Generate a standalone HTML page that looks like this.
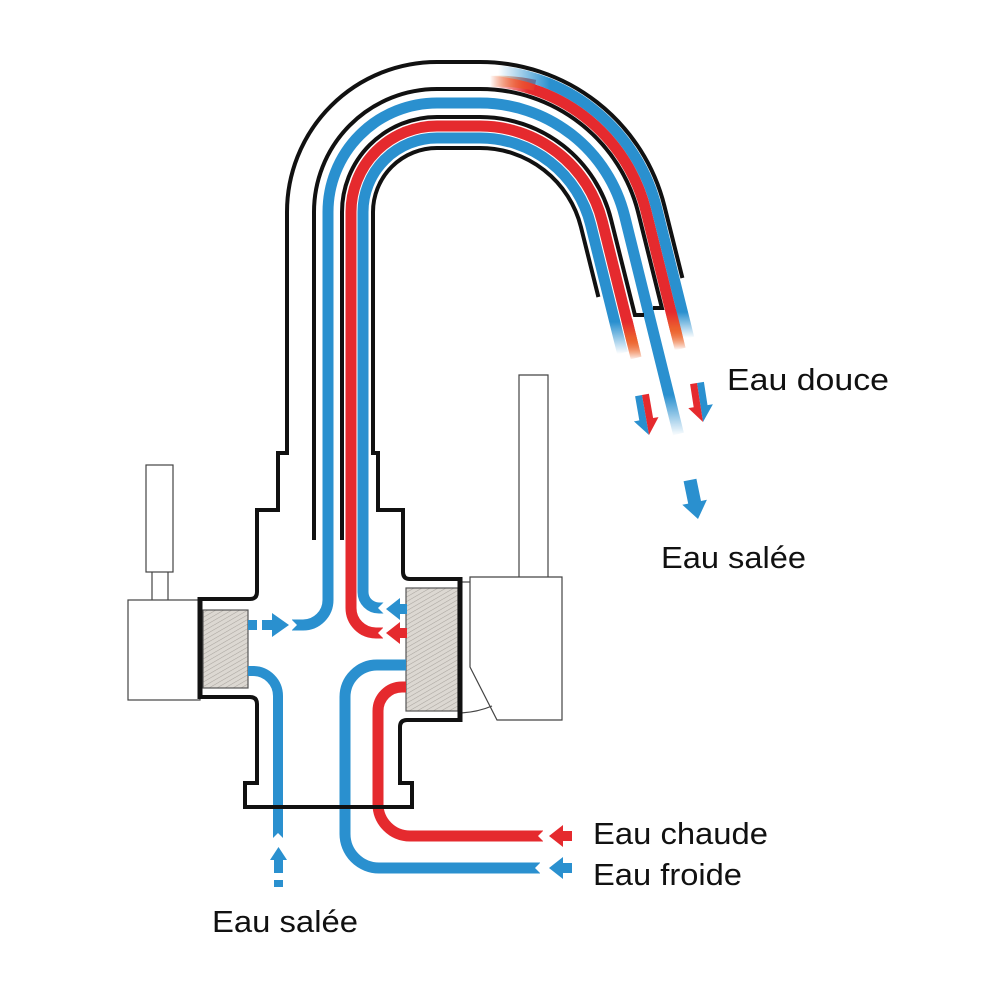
<!DOCTYPE html>
<html>
<head>
<meta charset="utf-8">
<style>
  html,body{margin:0;padding:0;background:#fff;}
  svg{display:block;}
  text{font-family:"Liberation Sans", Arial, sans-serif; fill:#111;}
</style>
</head>
<body>
<svg width="1000" height="1000" viewBox="0 0 1000 1000" xmlns="http://www.w3.org/2000/svg">
  <defs>
    <pattern id="hatch" width="4" height="4" patternUnits="userSpaceOnUse" patternTransform="rotate(60)">
      <rect width="4" height="4" fill="#dcd8d2"/>
      <line x1="0" y1="0" x2="0" y2="4" stroke="#aaa59f" stroke-width="1.1"/>
    </pattern>

    <!-- start fades (horizontal) -->
    <linearGradient id="gStartOR" gradientUnits="userSpaceOnUse" x1="490" y1="0" x2="528" y2="0">
      <stop offset="0" stop-color="#000"/><stop offset="1" stop-color="#fff"/>
    </linearGradient>
    <linearGradient id="gStartOB" gradientUnits="userSpaceOnUse" x1="498" y1="0" x2="550" y2="0">
      <stop offset="0" stop-color="#000"/><stop offset="1" stop-color="#fff"/>
    </linearGradient>
    <!-- end fades (vertical) -->
    <linearGradient id="gEndOR" gradientUnits="userSpaceOnUse" x1="0" y1="328" x2="0" y2="350">
      <stop offset="0" stop-color="#fff"/><stop offset="1" stop-color="#000"/>
    </linearGradient>
    <linearGradient id="gEndOB" gradientUnits="userSpaceOnUse" x1="0" y1="312" x2="0" y2="338">
      <stop offset="0" stop-color="#fff"/><stop offset="1" stop-color="#000"/>
    </linearGradient>
    <linearGradient id="gEndIR" gradientUnits="userSpaceOnUse" x1="0" y1="338" x2="0" y2="360">
      <stop offset="0" stop-color="#fff"/><stop offset="1" stop-color="#000"/>
    </linearGradient>
    <linearGradient id="gEndIB" gradientUnits="userSpaceOnUse" x1="0" y1="322" x2="0" y2="354">
      <stop offset="0" stop-color="#fff"/><stop offset="1" stop-color="#000"/>
    </linearGradient>
    <linearGradient id="gEndB1" gradientUnits="userSpaceOnUse" x1="0" y1="395" x2="0" y2="436">
      <stop offset="0" stop-color="#fff"/><stop offset="1" stop-color="#000"/>
    </linearGradient>

    <mask id="mOR" maskUnits="userSpaceOnUse" x="0" y="0" width="1000" height="1000">
      <rect x="0" y="0" width="580" height="1000" fill="url(#gStartOR)"/>
      <rect x="580" y="0" width="420" height="1000" fill="url(#gEndOR)"/>
    </mask>
    <mask id="mOB" maskUnits="userSpaceOnUse" x="0" y="0" width="1000" height="1000">
      <rect x="0" y="0" width="580" height="1000" fill="url(#gStartOB)"/>
      <rect x="580" y="0" width="420" height="1000" fill="url(#gEndOB)"/>
    </mask>
    <mask id="mIR" maskUnits="userSpaceOnUse" x="0" y="0" width="1000" height="1000">
      <rect x="0" y="0" width="560" height="1000" fill="#fff"/>
      <rect x="560" y="0" width="440" height="1000" fill="url(#gEndIR)"/>
    </mask>
    <mask id="mIB" maskUnits="userSpaceOnUse" x="0" y="0" width="1000" height="1000">
      <rect x="0" y="0" width="560" height="1000" fill="#fff"/>
      <rect x="560" y="0" width="440" height="1000" fill="url(#gEndIB)"/>
    </mask>
    <mask id="mB1" maskUnits="userSpaceOnUse" x="0" y="0" width="1000" height="1000">
      <rect x="0" y="0" width="560" height="1000" fill="#fff"/>
      <rect x="560" y="0" width="440" height="1000" fill="url(#gEndB1)"/>
    </mask>

    <linearGradient id="orIR" gradientUnits="userSpaceOnUse" x1="0" y1="322" x2="0" y2="355">
      <stop offset="0" stop-color="#e52a2e"/><stop offset="1" stop-color="#f39a2e"/>
    </linearGradient>
    <linearGradient id="orOR" gradientUnits="userSpaceOnUse" x1="0" y1="312" x2="0" y2="345">
      <stop offset="0" stop-color="#e52a2e"/><stop offset="1" stop-color="#f39a2e"/>
    </linearGradient>
    <linearGradient id="orTop" gradientUnits="userSpaceOnUse" x1="490" y1="0" x2="540" y2="0">
      <stop offset="0" stop-color="#f39a2e"/><stop offset="1" stop-color="#e52a2e"/>
    </linearGradient>
  </defs>

  <!-- ===== Handles (thin outlines) ===== -->
  <g fill="#fff" stroke="#444" stroke-width="1.2">
    <!-- left handle -->
    <rect x="146" y="465" width="27" height="107"/>
    <line x1="152" y1="572" x2="152" y2="600"/>
    <line x1="168" y1="572" x2="168" y2="600"/>
    <rect x="128" y="600" width="72" height="100"/>
    <!-- right handle -->
    <path d="M519 375 L548 375 L548 577 Q533 581 519 577 Z"/>
    <path d="M470 577 L562 577 L562 720 L497 720 L470 667 Z"/>
    <path d="M461 582 L470 582" fill="none"/>
    <path d="M461 713 Q478 712 492 706" fill="none"/>
  </g>

  <!-- ===== Cartridges ===== -->
  <rect x="203" y="610" width="45" height="78" fill="url(#hatch)" stroke="#555" stroke-width="1.2"/>
  <rect x="406" y="588" width="52" height="123" fill="url(#hatch)" stroke="#555" stroke-width="1.2"/>

  <!-- ===== Coloured strands ===== -->
  <g fill="none" stroke-width="11" stroke-linecap="butt" stroke-linejoin="round">
    <!-- blue1 (salt) -->
    <path d="M292 625 L303 625 A25 25 0 0 0 328 600 L328 212 A109 109 0 0 1 437 103 L480 103 A149 149 0 0 1 624.6 216 L678.5 434" stroke="#2a90cf" mask="url(#mB1)"/>
    <!-- inner red -->
    <path d="M383 633 L376 633 A25 25 0 0 1 351 608 L351 212 A86 86 0 0 1 437 126 L480 126 A126 126 0 0 1 602.3 221.5 L636.1 358" stroke="#e52a2e" mask="url(#mIR)"/>
    <path d="M626.9 320 L636.1 358" stroke="url(#orIR)" mask="url(#mIR)"/>
    <!-- inner blue -->
    <path d="M384 608 L379 608 A16 16 0 0 1 363 592 L363 212 A74 74 0 0 1 437 138 L480 138 A114 114 0 0 1 590.6 224.4 L622.5 353" stroke="#2a90cf" mask="url(#mIB)"/>
    <!-- outer red (fresh) -->
    <path d="M490 81.3 A171 171 0 0 1 645.9 210.6 L680.2 349" stroke="#e52a2e" mask="url(#mOR)"/>
    <path d="M670.7 310 L680.2 349" stroke="url(#orOR)" mask="url(#mOR)"/>
    <path d="M490 81.3 A171 171 0 0 1 535 85.3" stroke="url(#orTop)" mask="url(#mOR)"/>
    <!-- outer blue (fresh) -->
    <path d="M495 70.6 A182 182 0 0 1 656.6 208 L688.8 338" stroke="#2a90cf" mask="url(#mOB)"/>

    <!-- lower pipes -->
    <!-- salt in (left) -->
    <path d="M248 671 L253 671 A25 25 0 0 1 278 696 L278 838" stroke="#2a90cf" stroke-width="10"/>
    <!-- cold -->
    <path d="M406 665 L377 665 A32 32 0 0 0 345 697 L345 834 A34 34 0 0 0 379 868 L540 868" stroke="#2a90cf" stroke-width="11"/>
    <!-- hot -->
    <path d="M406 687 L402 687 A24 24 0 0 0 378 711 L378 804 A32 32 0 0 0 410 836 L543 836" stroke="#e52a2e" stroke-width="11"/>
  </g>

  <!-- notches at pipe ends -->
  <g fill="#fff">
    <polygon points="291,619 297,625 291,631"/>
    <polygon points="384,627 378,633 384,639"/>
    <polygon points="384,602 378,608 384,614"/>
    <polygon points="272,839 278,833 284,839"/>
    <polygon points="541,862 535,868 541,874"/>
    <polygon points="544,830 538,836 544,842"/>
  </g>

  <!-- ===== Arrows ===== -->
  <g fill="#2a90cf">
    <!-- left dashed arrow -->
    <rect x="248" y="620" width="9" height="10"/>
    <rect x="262" y="620" width="11" height="10"/>
    <polygon points="272,613 289,625 272,637"/>
    <!-- blue arrow into inner blue pipe -->
    <polygon points="386,609 400,598 400,604 407,604 407,614 400,614 400,620"/>
    <!-- cold inlet arrow -->
    <polygon points="549,868 563,857 563,863 572,863 572,873 563,873 563,879"/>
    <!-- salt in up arrow -->
    <polygon points="270,860 278.5,847 287,860"/>
    <rect x="274" y="860" width="9" height="13"/>
    <rect x="274" y="880" width="9" height="7"/>
    <!-- bottom blue arrow (salt out) -->
    <polygon points="683.6,481.3 696.4,478.7 701,501 706.9,499.8 698,519 682.3,504.8 688.2,503.6"/>
    <!-- spout arrows blue halves -->
    <polygon points="642,395 635.1,396.2 639.3,420.4 633.9,421.4 649,435"/>
    <polygon points="697,383 703.9,381.9 707.5,405.1 712.9,404.3 703,422"/>
  </g>
  <g fill="#e52a2e">
    <polygon points="386,633 400,622 400,628 407,628 407,638 400,638 400,644"/>
    <polygon points="549,836 563,825 563,831 572,831 572,841 563,841 563,847"/>
    <polygon points="642,395 648.9,393.8 653.1,418 658.5,417.1 649,435"/>
    <polygon points="697,383 690.1,384.1 693.7,407.3 688.3,408.1 703,422"/>
  </g>

  <!-- ===== Black outlines ===== -->
  <g fill="none" stroke="#111" stroke-width="4" stroke-linejoin="miter" stroke-linecap="butt">
    <!-- outer spout line -->
    <path d="M287 455 L287 212 A150 150 0 0 1 437 62 L480 62 A190 190 0 0 1 664.4 206 L682.4 278"/>
    <!-- black2 -->
    <path d="M314 540 L314 212 A123 123 0 0 1 437 89 L480 89 A163 163 0 0 1 638.2 212.6 L661.9 308 L653 308"/>
    <!-- black3 -->
    <path d="M342 540 L342 212 A95 95 0 0 1 437 117 L480 117 A135 135 0 0 1 611 219.3 L634.9 315 L644 315"/>
    <!-- inner spout line -->
    <path d="M373 455 L373 212 A64 64 0 0 1 437 148 L480 148 A104 104 0 0 1 580.9 226.8 L598.4 297"/>
    <!-- body -->
    <path d="M287 453 L278 453 L278 510 L257 510 L257 592 Q257 599 250 599 L200 599"/>
    <path d="M200 697 L250 697 Q257 697 257 704 L257 783 L245 783 L245 807 L412 807 L412 783 L400 783 L400 727 Q400 720 407 720 L460 720"/>
    <path d="M460 579 L410 579 Q403 579 403 572 L403 510 L378 510 L378 453 L373 453"/>
  </g>
  <g stroke="#111" stroke-width="5">
    <line x1="200" y1="597" x2="200" y2="699"/>
    <line x1="460" y1="577" x2="460" y2="722"/>
  </g>

  <!-- ===== Labels ===== -->
  <g font-size="31">
    <text x="727" y="390" textLength="162" lengthAdjust="spacingAndGlyphs">Eau douce</text>
    <text x="661" y="568" textLength="145" lengthAdjust="spacingAndGlyphs">Eau salée</text>
    <text x="593" y="844" textLength="175" lengthAdjust="spacingAndGlyphs">Eau chaude</text>
    <text x="593" y="885" textLength="149" lengthAdjust="spacingAndGlyphs">Eau froide</text>
    <text x="212" y="932" textLength="146" lengthAdjust="spacingAndGlyphs">Eau salée</text>
  </g>
</svg>
</body>
</html>
